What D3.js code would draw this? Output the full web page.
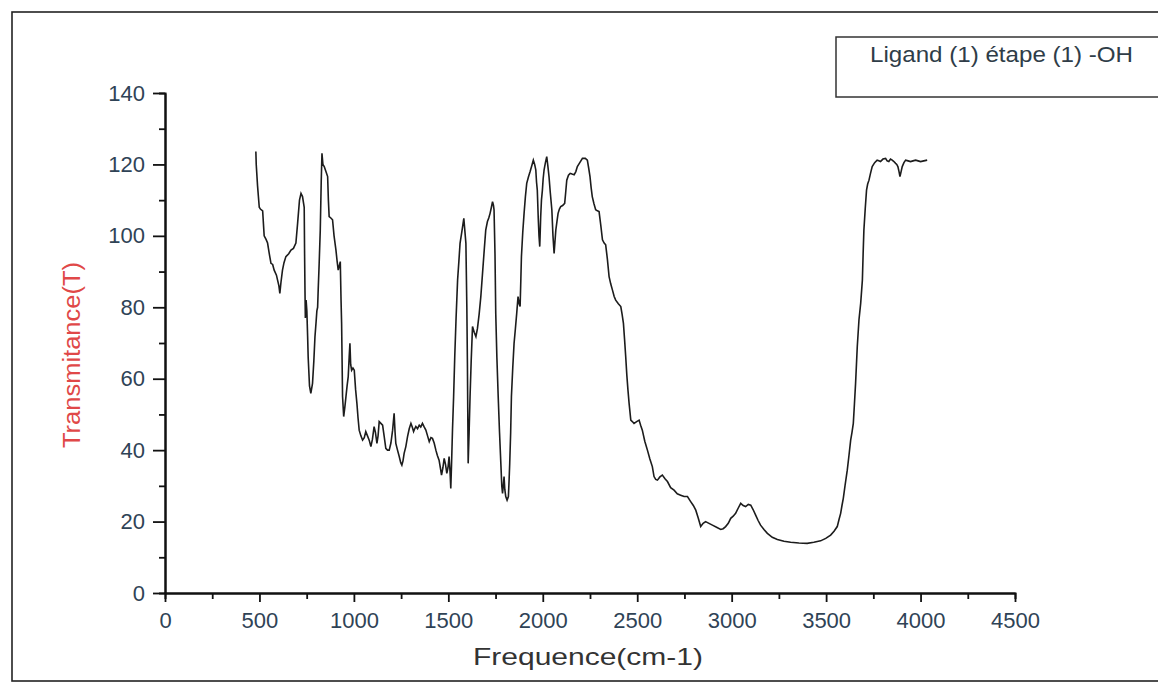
<!DOCTYPE html>
<html>
<head>
<meta charset="utf-8">
<script src="https://cdn.jsdelivr.net/npm/d3@7"></script>
<style>
  body { margin: 0; background: #fff; }
  svg { display: block; font-family: 'Liberation Sans', Arial, sans-serif; }
  .axis path, .axis line { stroke: #111; }
  .axis path { stroke-width: 2; }
  .axis line { stroke-width: 1.8; }
  .axis text { fill: #2f4356; font-size: 22px; font-family: 'Liberation Sans', Arial, sans-serif; }
</style>
</head>
<body>
<div id="chart"></div>
<script>
// IR spectrum (wavenumber in cm-1, transmittance)
let wavenumbers = [
  481, 483, 490, 499, 505, 517, 525, 535, 543, 552, 561, 570, 578, 590, 596, 603, 608, 614, 622, 630,
  640, 655, 667, 680, 693, 702, 712, 720, 728, 737, 739, 741, 743, 747, 751, 755, 758, 765, 772, 781,
  788, 794, 800, 804, 808, 811, 816, 822, 827, 831, 836, 843, 852, 861, 865, 869, 878, 887, 895, 905,
  911, 917, 928, 932, 935, 940, 946, 952, 958, 964, 970, 975, 979, 983, 988, 995, 1002, 1009, 1016, 1022,
  1028, 1037, 1046, 1055, 1063, 1072, 1081, 1090, 1098, 1107, 1114, 1122, 1128, 1134, 1143, 1152, 1160, 1169, 1178, 1187,
  1196, 1205, 1213, 1218, 1222, 1231, 1240, 1248, 1254, 1260, 1266, 1275, 1284, 1293, 1302, 1309, 1316, 1322, 1328, 1337,
  1346, 1354, 1363, 1372, 1381, 1390, 1399, 1408, 1416, 1425, 1434, 1442, 1451, 1458, 1464, 1471, 1478, 1485, 1492, 1498,
  1504, 1509, 1513, 1517, 1522, 1528, 1534, 1541, 1549, 1556, 1562, 1571, 1582, 1593, 1598, 1601, 1603, 1605, 1610, 1615,
  1621, 1628, 1637, 1646, 1654, 1663, 1672, 1681, 1690, 1698, 1707, 1714, 1721, 1728, 1734, 1739, 1742, 1747, 1751, 1757,
  1764, 1771, 1778, 1783, 1787, 1791, 1795, 1799, 1804, 1811, 1818, 1822, 1825, 1830, 1834, 1841, 1848, 1855, 1862, 1869,
  1875, 1880, 1884, 1887, 1894, 1901, 1908, 1915, 1924, 1933, 1941, 1950, 1957, 1963, 1967, 1971, 1976, 1980, 1984, 1987,
  1989, 1993, 1998, 2002, 2007, 2014, 2021, 2027, 2033, 2040, 2048, 2054, 2060, 2064, 2069, 2075, 2081, 2088, 2095, 2105,
  2116, 2121, 2127, 2136, 2145, 2155, 2166, 2175, 2183, 2196, 2210, 2225, 2236, 2243, 2250, 2256, 2262, 2271, 2280, 2289,
  2298, 2307, 2316, 2325, 2333, 2342, 2351, 2360, 2369, 2378, 2386, 2400, 2413, 2420, 2427, 2433, 2439, 2445, 2451, 2457,
  2466, 2474, 2483, 2497, 2510, 2518, 2527, 2540, 2554, 2567, 2580, 2589, 2598, 2607, 2620, 2633, 2647, 2660, 2677, 2695,
  2712, 2730, 2748, 2766, 2783, 2797, 2810, 2823, 2836, 2849, 2862, 2880, 2898, 2920, 2942, 2955, 2968, 2982, 2995, 3008,
  3021, 3035, 3048, 3061, 3074, 3088, 3101, 3114, 3127, 3140, 3153, 3171, 3189, 3215, 3242, 3277, 3312, 3356, 3400, 3435,
  3471, 3498, 3524, 3542, 3559, 3568, 3577, 3584, 3591, 3600, 3612, 3621, 3630, 3637, 3644, 3650, 3656, 3665, 3674, 3683,
  3692, 3696, 3700, 3707, 3714, 3720, 3727, 3735, 3744, 3757, 3770, 3779, 3788, 3801, 3815, 3823, 3832, 3841, 3850, 3859,
  3868, 3874, 3880, 3886, 3891, 3897, 3903, 3912, 3921, 3934, 3947, 3960, 3974, 3987, 4000, 4017, 4035
]

let transmittance = [
  123.6, 120, 114, 108, 107.5, 107, 100, 99, 98, 95, 92.3, 92, 90.4, 89, 87.6, 86, 83.9, 87, 90.4, 92.5,
  94.2, 95, 96, 96.5, 98, 103.5, 110, 111.9, 111, 108, 95, 85, 77, 82, 79, 72, 66, 58, 55.9, 58.7,
  65, 71.8, 76, 79, 80, 84.8, 92, 101.6, 115, 123.1, 120, 119.4, 118, 116.6, 110, 105.4, 105, 104.5, 100, 96,
  93, 90.4, 92.8, 82, 75.5, 55, 49.4, 52, 55, 58, 60.6, 66, 69.9, 64, 62.4, 63, 62.4, 57, 53.1, 49,
  45.6, 44, 42.8, 43.5, 45.2, 44, 42.8, 41, 43, 46.6, 45, 41.9, 44, 48, 47.5, 47, 44, 40.5, 40, 40,
  42, 45.6, 50.3, 45, 41.9, 40, 38.2, 36.5, 35.8, 37, 39.1, 41, 43.8, 46, 47.5, 46.5, 45.2, 46, 46.6, 46,
  47, 46.5, 47.5, 46.5, 45.6, 44, 42.4, 43.5, 43.3, 42, 40, 38.5, 37.2, 35, 33, 35, 37.7, 36, 33.5, 35,
  38.2, 34, 29.3, 36, 45.6, 55, 66.2, 77, 87.6, 93, 97.9, 101, 104.9, 97.9, 80, 64.3, 50, 36.3, 45, 55,
  65, 74.6, 73, 71.8, 74, 78, 83, 89.5, 96, 101.6, 104, 105, 106.3, 108, 109.6, 108.5, 107.3, 95, 78.3, 66,
  55, 45, 36.3, 30, 27.9, 30, 32.6, 29, 27, 26, 27, 32, 36.3, 45, 55, 63, 69.9, 74, 78.3, 83,
  81, 80.2, 88, 94.2, 101, 106.3, 111, 114.7, 116.5, 118, 119.5, 121.2, 120, 118.5, 115, 112.8, 105, 100, 97, 102,
  105.4, 110, 112.8, 116, 118.5, 120.5, 122.2, 119.5, 116.6, 112, 107.3, 100, 95.1, 98, 101.6, 104, 106.3, 107.5, 108.2, 108.5,
  109.1, 112, 115.6, 117, 117.5, 117.3, 117.1, 118, 119.4, 120.5, 121.7, 121.7, 121.2, 119, 116.6, 113.5, 111, 109, 107.3, 107,
  106.8, 103, 98.9, 98, 97.5, 93.5, 88.6, 86.5, 84.8, 83, 82, 81, 80.2, 78, 75.5, 71, 66.2, 61, 56.8, 53.1,
  48.4, 48, 47.5, 48, 48.4, 47, 45.6, 42.5, 40, 37.5, 35.4, 32.6, 31.8, 31.6, 32.5, 33, 32, 31.2, 29.5, 28.8,
  27.8, 27.4, 27, 27, 25.6, 24.5, 23.2, 21, 18.6, 19.5, 20, 19.5, 19, 18.4, 17.8, 18, 18.6, 19.5, 20.9, 21.5,
  22.3, 23.8, 25.1, 24.5, 24.2, 24.8, 24.6, 23.3, 21.8, 20.3, 19, 17.8, 16.7, 15.6, 15, 14.5, 14.2, 14, 13.9, 14.2,
  14.6, 15.3, 16.2, 17.3, 18.6, 20.5, 22.3, 24.5, 26.5, 30, 34.4, 38.5, 42.8, 45, 47.5, 53, 58.7, 69, 76.5, 81.1,
  87.6, 95, 101.6, 107.5, 112.8, 114.5, 115.6, 117.5, 119.4, 120.5, 121.2, 121, 120.8, 121.5, 121.7, 121, 120.8, 121.5, 121.2, 120.8,
  120.3, 120, 119.4, 118, 116.6, 118, 119.4, 120.5, 121.2, 121, 120.8, 121, 121.2, 121, 120.8, 121, 121.2
]

let xMajorTicks = [0, 500, 1000, 1500, 2000, 2500, 3000, 3500, 4000, 4500]
let xMinorTicks = [250, 750, 1250, 1750, 2250, 2750, 3250, 3750, 4250]
let yMajorTicks = [0, 20, 40, 60, 80, 100, 120, 140]
let yMinorTicks = [10, 30, 50, 70, 90, 110, 130]

let legendLabel = 'Ligand (1) étape (1) -OH'
let xLabel = 'Frequence(cm-1)'
let yLabel = 'Transmitance(T)'

// Set up margin/height/width
let fullWidth = 1158
let fullHeight = 683
let margin = { top: 93, left: 165, right: 143, bottom: 90 }
let height = fullHeight - margin.top - margin.bottom
let width = fullWidth - margin.left - margin.right

let svgRoot = d3
  .select('#chart')
  .append('svg')
  .attr('width', fullWidth)
  .attr('height', fullHeight)

// scanned page frame
svgRoot
  .append('rect')
  .attr('x', 12)
  .attr('y', 12)
  .attr('width', 1200)
  .attr('height', 669)
  .attr('fill', 'none')
  .attr('stroke', '#222')
  .attr('stroke-width', 1.6)

let svg = svgRoot
  .append('g')
  .attr('transform', `translate(${margin.left},${margin.top})`)

// Create your scales
let xPositionScale = d3
  .scaleLinear()
  .domain([0, 4500])
  .range([0, width])

let yPositionScale = d3
  .scaleLinear()
  .domain([0, 140])
  .range([height, 0])

let line = d3
  .line()
  .x(d => xPositionScale(d[0]))
  .y(d => yPositionScale(d[1]))

let points = wavenumbers.map((w, i) => [w, transmittance[i]])

// Axes: minor ticks first, majors with labels on top
svg
  .append('g')
  .attr('class', 'axis x-axis-minor')
  .attr('transform', `translate(0,${height})`)
  .call(d3.axisBottom(xPositionScale).tickValues(xMinorTicks).tickSize(6).tickFormat(''))

svg
  .append('g')
  .attr('class', 'axis x-axis')
  .attr('transform', `translate(0,${height})`)
  .call(
    d3
      .axisBottom(xPositionScale)
      .tickValues(xMajorTicks)
      .tickSize(9)
      .tickPadding(10)
      .tickSizeOuter(0)
      .tickFormat(d3.format('d'))
  )

svg
  .append('g')
  .attr('class', 'axis y-axis-minor')
  .call(d3.axisLeft(yPositionScale).tickValues(yMinorTicks).tickSize(6).tickFormat(''))

svg
  .append('g')
  .attr('class', 'axis y-axis')
  .call(
    d3
      .axisLeft(yPositionScale)
      .tickValues(yMajorTicks)
      .tickSize(12)
      .tickPadding(8)
      .tickSizeOuter(0)
      .tickFormat(d3.format('d'))
  )

// the spectrum
svg
  .append('path')
  .datum(points)
  .attr('d', line)
  .attr('fill', 'none')
  .attr('stroke', '#1c1c1c')
  .attr('stroke-width', 1.6)

// Axis titles
svgRoot
  .append('text')
  .text(xLabel)
  .attr('x', 588)
  .attr('y', 665)
  .attr('text-anchor', 'middle')
  .attr('font-size', 24)
  .attr('textLength', 230)
  .attr('lengthAdjust', 'spacingAndGlyphs')
  .attr('fill', '#333')

svgRoot
  .append('text')
  .text(yLabel)
  .attr('transform', 'translate(80,355) rotate(-90)')
  .attr('text-anchor', 'middle')
  .attr('font-size', 23)
  .attr('textLength', 186)
  .attr('lengthAdjust', 'spacingAndGlyphs')
  .attr('fill', '#e04848')

// Legend box
svgRoot
  .append('rect')
  .attr('x', 836)
  .attr('y', 37)
  .attr('width', 400)
  .attr('height', 60)
  .attr('fill', 'none')
  .attr('stroke', '#333')
  .attr('stroke-width', 1.5)

svgRoot
  .append('text')
  .text(legendLabel)
  .attr('x', 870)
  .attr('y', 62)
  .attr('font-size', 22)
  .attr('textLength', 263)
  .attr('lengthAdjust', 'spacingAndGlyphs')
  .attr('fill', '#2f3d48')
</script>
</body>
</html>
